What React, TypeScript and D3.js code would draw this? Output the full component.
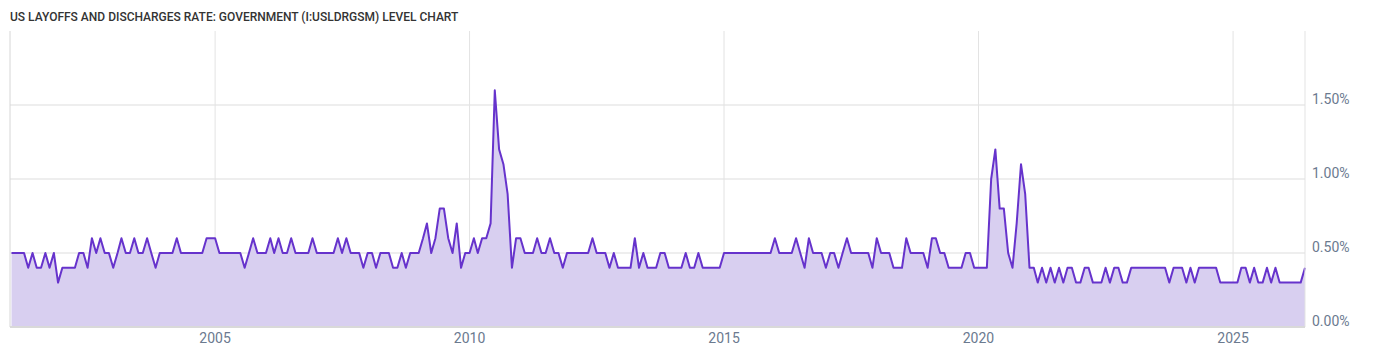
import React from "react";
import * as d3 from "d3";

const title = "US LAYOFFS AND DISCHARGES RATE: GOVERNMENT (I:USLDRGSM) LEVEL CHART";
const startYear = 2001;
const startMonth = 0;
// Monthly rate values (%) starting Jan 2001
const rates: number[] = [
  0.5,0.5,0.5,0.5, 0.4,0.5,0.4,0.4, 0.5,0.4,0.5,0.3, 0.4,0.4,0.4,0.4,
  0.5,0.5,0.4,0.6, 0.5,0.6,0.5,0.5, 0.4,0.5,0.6,0.5, 0.5,0.6,0.5,0.5,
  0.6,0.5,0.4,0.5, 0.5,0.5,0.5,0.6, 0.5,0.5,0.5,0.5, 0.5,0.5,0.6,0.6,
  0.6,0.5,0.5,0.5, 0.5,0.5,0.5,0.4, 0.5,0.6,0.5,0.5, 0.5,0.6,0.5,0.6,
  0.5,0.5,0.6,0.5, 0.5,0.5,0.5,0.6, 0.5,0.5,0.5,0.5, 0.5,0.6,0.5,0.6,
  0.5,0.5,0.5,0.4, 0.5,0.5,0.4,0.5, 0.5,0.5,0.4,0.4, 0.5,0.4,0.5,0.5,
  0.5,0.6,0.7,0.5, 0.6,0.8,0.8,0.6, 0.5,0.7,0.4,0.5, 0.5,0.6,0.5,0.6,
  0.6,0.7,1.6,1.2, 1.1,0.9,0.4,0.6, 0.6,0.5,0.5,0.5, 0.6,0.5,0.5,0.6,
  0.5,0.5,0.4,0.5, 0.5,0.5,0.5,0.5, 0.5,0.6,0.5,0.5, 0.5,0.4,0.5,0.4,
  0.4,0.4,0.4,0.6, 0.4,0.5,0.4,0.4, 0.4,0.5,0.5,0.4, 0.4,0.4,0.4,0.5,
  0.4,0.4,0.5,0.4, 0.4,0.4,0.4,0.4,
  0.5,0.5,0.5,0.5, 0.5,0.5,0.5,0.5, 0.5,0.5,0.5,0.5,
  0.6,0.5,0.5,0.5, 0.5,0.6,0.5,0.4, 0.6,0.5,0.5,0.5, 0.4,0.5,0.5,0.4,
  0.5,0.6,0.5,0.5, 0.5,0.5,0.5,0.4, 0.6,0.5,0.5,0.5, 0.4,0.4,0.4,0.6,
  0.5,0.5,0.5,0.5, 0.4,0.6,0.6,0.5, 0.5,0.4,0.4,0.4, 0.4,0.5,0.5,0.4,
  0.4,0.4,0.4,1.0, 1.2,0.8,0.8,0.5, 0.4,0.7,1.1,0.9, 0.4,0.4,0.3,0.4,
  0.3,0.4,0.3,0.4, 0.3,0.4,0.4,0.3, 0.3,0.4,0.4,0.3, 0.3,0.3,0.4,0.3,
  0.4,0.4,0.3,0.3,
  0.4,0.4,0.4,0.4, 0.4,0.4,0.4,0.4, 0.4,
  0.3,0.4,0.4,0.4, 0.3,0.4,0.3,0.4, 0.4,0.4,0.4,0.4,
  0.3,0.3,0.3,0.3,0.3,
  0.4,0.4,0.3,0.4, 0.3,0.3,0.4,0.3, 0.4,0.3,0.3,0.3, 0.3,0.3,0.3,0.4,
];
const yTicks = [0, 0.5, 1.0, 1.5];
const xTickYears = [2005, 2010, 2015, 2020, 2025];

const W = 1400;
const H = 357;
const plotLeft = 10;
const plotRight = 1305;
const plotTop = 31;
const plotBottom = 327;

export default function App() {
  const data = rates.map((v, i) => ({ date: new Date(startYear, startMonth + i, 1), v }));
  const x = d3
    .scaleTime()
    .domain([data[0].date, data[data.length - 1].date])
    .range([11.5, plotRight]);
  const y = d3.scaleLinear().domain([0, 2.0]).range([plotBottom, plotTop]);

  const area = d3
    .area<{ date: Date; v: number }>()
    .x((d) => x(d.date))
    .y0(plotBottom)
    .y1((d) => y(d.v));
  const line = d3
    .line<{ date: Date; v: number }>()
    .x((d) => x(d.date))
    .y((d) => y(d.v));

  const labelColor = "#6b7a8f";
  const font = "Roboto, 'Noto Sans', sans-serif";

  return (
    <svg
      width={W}
      height={H}
      style={{ position: "absolute", left: 0, top: 0, background: "#fff" }}
      fontFamily={font}
    >
      <text x={10} y={21} fontSize={12} fontWeight={500} fill="#333">
        {title}
      </text>
      {yTicks.map((t) => (
        <line
          key={"h" + t}
          x1={plotLeft}
          x2={plotRight}
          y1={y(t)}
          y2={y(t)}
          stroke="#e8e8e8"
          strokeWidth={1.5}
        />
      ))}
      {xTickYears.map((yr) => {
        const xx = x(new Date(yr, 0, 1));
        return (
          <line key={"v" + yr} x1={xx} x2={xx} y1={plotTop} y2={plotBottom} stroke="#e3e3e3" strokeWidth={1} />
        );
      })}
      <path d={area(data) || ""} fill="#d8cff0" />
      <path d={line(data) || ""} fill="none" stroke="#6633cc" strokeWidth={2} strokeLinejoin="round" />
      <line x1={plotLeft} x2={plotLeft} y1={plotTop} y2={plotBottom} stroke="#d6d6d6" strokeWidth={1} />
      <line x1={plotRight} x2={plotRight} y1={plotTop} y2={plotBottom} stroke="#e3e3e3" strokeWidth={1} />
      <line x1={plotLeft} x2={plotRight} y1={plotBottom} y2={plotBottom} stroke="#d9d9d9" strokeWidth={2} />
      {yTicks.map((t) => (
        <text key={"yl" + t} x={1312} y={y(t) - 1} fontSize={14} fill={labelColor}>
          {d3.format(".2f")(t) + "%"}
        </text>
      ))}
      {xTickYears.map((yr) => (
        <text
          key={"xl" + yr}
          x={x(new Date(yr, 0, 1))}
          y={343}
          fontSize={14}
          fill={labelColor}
          textAnchor="middle"
        >
          {yr}
        </text>
      ))}
    </svg>
  );
}
